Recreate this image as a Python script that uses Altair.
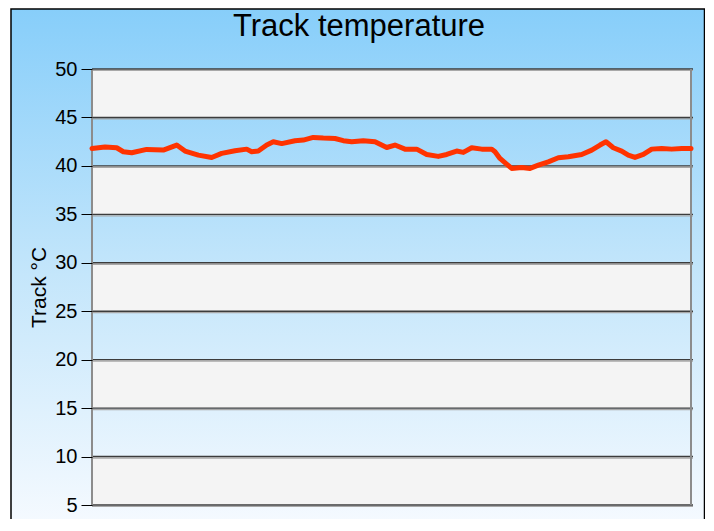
import altair as alt
import pandas as pd

# sample position (0-100 across the session) and track temperature (°C)
t_pos = [0, 2.17, 4.12, 5.23, 6.63, 9.13, 11.9, 14.14, 15.53, 17.75, 19.98, 21.65,
         23.87, 25.83, 26.66, 27.76, 29.17, 30.27, 31.67, 33.89, 35.28, 36.94, 38.61,
         40.57, 41.95, 43.36, 45.29, 47.25, 49.2, 50.58, 52.25, 54.21, 55.88, 57.81,
         59.22, 60.88, 61.99, 63.39, 65.06, 66.73, 67.28, 68.11, 70.07, 71.74, 73.12,
         74.51, 76.18, 77.85, 79.52, 81.75, 83.42, 84.81, 85.81, 87.03, 88.43, 89.53,
         90.65, 92.04, 93.44, 95.11, 96.78, 98.46, 100]
track_temp = [41.8, 41.94, 41.87, 41.46, 41.35, 41.7, 41.63, 42.15, 41.53, 41.11, 40.87,
              41.29, 41.56, 41.73, 41.46, 41.53, 42.15, 42.49, 42.3, 42.6, 42.66, 42.94,
              42.87, 42.83, 42.6, 42.49, 42.6, 42.49, 41.9, 42.15, 41.73, 41.73, 41.18,
              40.98, 41.18, 41.53, 41.39, 41.87, 41.73, 41.73, 41.46, 40.77, 39.74, 39.84,
              39.74, 40.08, 40.42, 40.84, 40.94, 41.18, 41.63, 42.15, 42.49, 41.87, 41.53,
              41.11, 40.87, 41.18, 41.73, 41.8, 41.73, 41.8, 41.8]
tick_values = [5, 10, 15, 20, 25, 30, 35, 40, 45, 50]
band_lo = [45, 35, 25, 15, 5]
band_hi = [50, 40, 30, 20, 10]
x_edges = [0, 100]
chart_title = ["Track temperature"]

line_df = pd.DataFrame({"t": t_pos, "temp": track_temp})
grid_df = pd.DataFrame({"v": tick_values})
band_df = pd.DataFrame({"lo": band_lo, "hi": band_hi})
edge_df = pd.DataFrame({"e": x_edges})
one_df = pd.DataFrame({"a": [0]})
title_df = pd.DataFrame({"title": chart_title})

W, H = 599, 436
FONT = "Liberation Sans"
xs = alt.Scale(domain=[0, 100], nice=False, zero=False)
ys = alt.Scale(domain=[5, 50], nice=False, zero=False)
yaxis = alt.Axis(
    values=tick_values, title="Track °C", grid=False, domain=False,
    ticks=True, tickSize=11, tickColor="black", tickWidth=1,
    labelFont=FONT, labelFontSize=20, labelColor="black", labelPadding=4,
    titleFont=FONT, titleFontSize=21, titleFontWeight="normal",
    titleColor="black", titlePadding=5, zindex=1)

bg = alt.Chart(one_df).mark_rect(
    fill={"gradient": "linear", "x1": 0, "y1": 0, "x2": 0, "y2": 1,
          "stops": [{"offset": 0, "color": "#87CEFA"},
                    {"offset": 0.5, "color": "#C4E6FB"},
                    {"offset": 1, "color": "#F8FBFF"}]},
    stroke="black", strokeWidth=1.5,
).encode(x=alt.value(-81), x2=alt.value(612.5), y=alt.value(-60), y2=alt.value(470))

title = alt.Chart(title_df).mark_text(
    font=FONT, fontSize=31, color="black", align="center", baseline="alphabetic"
).encode(text="title:N", x=alt.value(267), y=alt.value(-33))

bands = alt.Chart(band_df).mark_rect(fill="#F4F4F4").encode(
    x=alt.value(0), x2=alt.value(W),
    y=alt.Y("lo:Q", scale=ys, axis=yaxis), y2="hi:Q",
)

grid_shadow = alt.Chart(grid_df).mark_rule(color="#A8A8A8", strokeWidth=1.2, yOffset=1.5).encode(
    x=alt.value(0), x2=alt.value(W + 2),
    y=alt.Y("v:Q", scale=ys, axis=yaxis),
)
grid = alt.Chart(grid_df).mark_rule(color="#3C3C3C", strokeWidth=1.4).encode(
    x=alt.value(0), x2=alt.value(W + 2),
    y=alt.Y("v:Q", scale=ys, axis=yaxis),
)

edges = alt.Chart(edge_df).mark_rule(color="#8C8C8C", strokeWidth=2).encode(
    x=alt.X("e:Q", scale=xs, axis=None),
    y=alt.value(0), y2=alt.value(H),
)

line = alt.Chart(line_df).mark_line(
    color="#FF3300", strokeWidth=5, strokeJoin="round", strokeCap="round"
).encode(
    x=alt.X("t:Q", scale=xs, axis=None),
    y=alt.Y("temp:Q", scale=ys, axis=yaxis),
)

chart = alt.layer(bg, title, bands, grid_shadow, grid, edges, line).properties(
    width=W, height=H,
    autosize=alt.AutoSizeParams(type="none"),
    padding={"left": 84, "top": 61, "right": 14, "bottom": 14},
).configure_view(stroke=None)

chart.save("out.html", embed_options={"renderer": "svg", "actions": False})
